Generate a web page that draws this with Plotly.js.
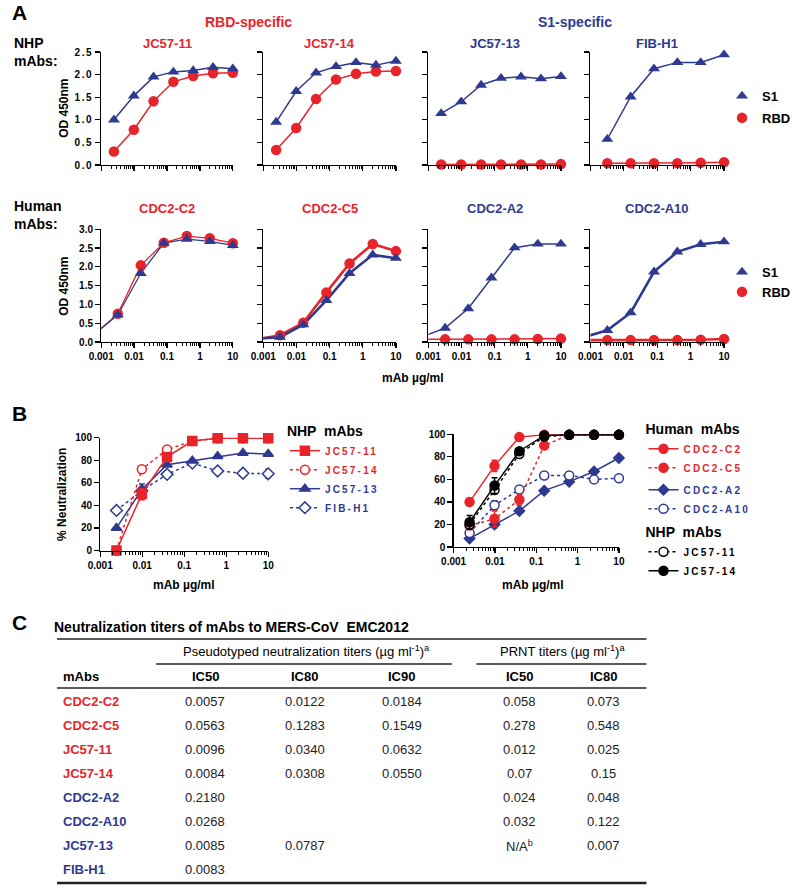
<!DOCTYPE html>
<html><head><meta charset="utf-8">
<script src="https://cdn.plot.ly/plotly-3.0.1.min.js"></script>
<style>body{margin:0;background:#fff}#chart{width:796px;height:890px}
.ytick text{letter-spacing:1.5px}</style>
</head><body><div id="chart"></div>
<script>
// ---------------- DATA ----------------
// Panel A: ELISA OD450 (mAb µg/ml)
const concA4 = [0.00244, 0.0098, 0.039, 0.156, 0.625, 2.5, 10];      // 4-fold dilutions
const concA5 = [0.00064, 0.0032, 0.016, 0.08, 0.4, 2, 10];           // 5-fold dilutions
const concFIB = [0.0032, 0.016, 0.08, 0.4, 2, 10];
const panelATitles = ['JC57-11','JC57-14','JC57-13','FIB-H1','CDC2-C2','CDC2-C5','CDC2-A2','CDC2-A10'];
const panelASpecificity = ['RBD','RBD','S1','S1','RBD','RBD','S1','S1'];
const jc5711_S1  = [1.00, 1.53, 1.95, 2.06, 2.09, 2.16, 2.13];
const jc5711_RBD = [0.30, 0.78, 1.41, 1.84, 1.97, 2.03, 2.04];
const jc5714_S1  = [0.95, 1.63, 2.04, 2.18, 2.27, 2.21, 2.30];
const jc5714_RBD = [0.33, 0.82, 1.46, 1.89, 2.02, 2.07, 2.08];
const jc5713_S1  = [1.14, 1.40, 1.77, 1.92, 1.95, 1.91, 1.96];
const jc5713_RBD = [0.01, 0.01, 0.01, 0.01, 0.01, 0.01, 0.02];
const fibh1_S1   = [0.57, 1.51, 2.13, 2.27, 2.27, 2.44];
const fibh1_RBD  = [0.04, 0.04, 0.04, 0.04, 0.05, 0.06];
const c2_S1  = [0.22, 0.72, 1.83, 2.63, 2.74, 2.68, 2.57];
const c2_RBD = [0.21, 0.75, 2.04, 2.64, 2.82, 2.76, 2.63];
const c5_S1  = [0.09, 0.13, 0.46, 1.11, 1.83, 2.32, 2.23];
const c5_RBD = [0.07, 0.18, 0.51, 1.32, 2.09, 2.61, 2.42];
const a2_S1  = [0.14, 0.37, 0.89, 1.71, 2.51, 2.61, 2.61];
const a2_RBD = [0.07, 0.07, 0.07, 0.07, 0.07, 0.08, 0.09];
const a10_S1  = [0.13, 0.31, 0.78, 1.87, 2.40, 2.60, 2.67];
const a10_RBD = [0.05, 0.05, 0.05, 0.05, 0.05, 0.06, 0.08];

// Panel B: % neutralization
const concB = [0.00244, 0.0098, 0.039, 0.156, 0.625, 2.5, 10];
const nhpJC5711 = [0, 50, 83, 97, 99.5, 99.5, 99.5];
const nhpJC5711_err = [0, 5, 3, 1, 0, 0, 0];
const nhpJC5714 = [0, 72, 89.5, 97, 99.5, 99.5, 99.5];
const nhpJC5713 = [20, 54, 76, 79.5, 83.5, 86.5, 85.5];
const nhpJC5713_err = [0, 5, 0, 0, 0, 0, 0];
const nhpFIBH1 = [35.5, 53, 67.5, 77.5, 70.5, 68.5, 68];
const nhpFIBH1_err = [0, 0, 0, 0, 0, 0, 4];
const humC2 = [40, 72, 97.5, 99.5, 99.5, 99.5, 99.5];
const humC2_err = [3, 5, 0, 0, 0, 0, 0];
const humC5 = [19, 25, 42, 90, 99.5, 99.5, 99.5];
const humC5_err = [3, 7, 5, 0, 0, 0, 0];
const humA2 = [7.5, 20, 32, 50, 58, 67, 79];
const humA2_err = [0, 3, 0, 0, 0, 0, 0];
const humA10 = [12.5, 37, 51, 63.5, 63.5, 60, 61];
const humA10_err = [3, 4, 0, 0, 0, 0, 0];
const rJC5711 = [20, 50.5, 82.5, 98, 99.5, 99.5, 99.5];
const rJC5714 = [22, 54.5, 85, 99, 99.5, 99.5, 99.5];
const rJC5714_err = [6, 7, 2, 0, 0, 0, 0];

// Tick labels
const xTickVals = [0.001, 0.01, 0.1, 1, 10];
const xTickText = ['0.001', '0.01', '0.1', '1', '10'];
const yTickValsA1 = [0, 0.5, 1, 1.5, 2, 2.5];
const yTickTextA1 = ['0.0', '0.5', '1.0', '1.5', '2.0', '2.5'];
const yTickValsA2 = [0, 0.5, 1, 1.5, 2, 2.5, 3];
const yTickTextA2 = ['0.0', '0.5', '1.0', '1.5', '2.0', '2.5', '3.0'];
const yTickValsB = [0, 20, 40, 60, 80, 100];
const yTickTextB = ['0', '20', '40', '60', '80', '100'];

// Panel C table
const tblMAbs = ['CDC2-C2','CDC2-C5','JC57-11','JC57-14','CDC2-A2','CDC2-A10','JC57-13','FIB-H1'];
const tblSpecificity = ['RBD','RBD','RBD','RBD','S1','S1','S1','S1'];
const pvIC50 = ['0.0057','0.0563','0.0096','0.0084','0.2180','0.0268','0.0085','0.0083'];
const pvIC80 = ['0.0122','0.1283','0.0340','0.0308','','','0.0787',''];
const pvIC90 = ['0.0184','0.1549','0.0632','0.0550','','','',''];
const prntIC50 = ['0.058','0.278','0.012','0.07','0.024','0.032','N/A<sup>b</sup>',''];
const prntIC80 = ['0.073','0.548','0.025','0.15','0.048','0.122','0.007',''];

// ---------------- STYLE / LAYOUT ----------------
const RED = '#e8242b', BLUE = '#2e3a8f', BLACK = '#000';
const specColor = s => s === 'RBD' ? RED : BLUE;
const FONT = 'Liberation Sans, Arial, sans-serif';
const W = 796, H = 890;
const px = v => v / W, py = v => 1 - v / H;

const minorVals = [];
[0.001, 0.01, 0.1, 1].forEach(d => { for (let k = 2; k <= 9; k++) minorVals.push(+(d * k).toPrecision(3)); });

const tickfont = {family: FONT, size: 10, weight: 'bold', color: BLACK};
function xAxisCfg(d, anchor, labels) {
  return {domain: [px(d[0]), px(d[1])], anchor, type: 'log', range: [-3, 1],
    tickmode: 'array', tickvals: xTickVals, ticktext: xTickText, showticklabels: labels,
    ticks: 'outside', ticklen: 5, tickwidth: 1.2, tickcolor: BLACK,
    minor: {tickmode: 'array', tickvals: minorVals, ticks: 'outside', ticklen: 3, tickwidth: 1, tickcolor: BLACK, showgrid: false},
    showline: true, linewidth: 1.2, linecolor: BLACK, showgrid: false, zeroline: false,
    tickfont, fixedrange: true};
}
function yAxisCfg(d, anchor, range, vals, text, labels) {
  return {domain: [py(d[1]), py(d[0])], anchor, range,
    tickmode: 'array', tickvals: vals, ticktext: text, showticklabels: labels,
    ticks: 'outside', ticklen: 5, tickwidth: 1.2, tickcolor: BLACK,
    showline: true, linewidth: 1.2, linecolor: BLACK, showgrid: false, zeroline: false,
    tickfont, fixedrange: true};
}

const colsA = [[103, 237], [268, 403], [436, 571], [601, 737]];
const rowsA = [[52, 165], [229.3, 342]];
const layout = {
  width: W, height: H, margin: {l: 0, r: 0, t: 0, b: 0},
  paper_bgcolor: '#fff', plot_bgcolor: 'rgba(0,0,0,0)',
  font: {family: FONT, color: BLACK},
  showlegend: true, annotations: [], shapes: []
};

function ann(x, y, text, size, opts) {
  layout.annotations.push(Object.assign({xref: 'paper', yref: 'paper', x: px(x), y: py(y), text, showarrow: false,
    xanchor: 'center', yanchor: 'middle', font: {size, color: BLACK}}, opts || {}));
}

const traces = [];
const seriesA = [
  [concA4, jc5711_S1, jc5711_RBD, 1.5],
  [concA4, jc5714_S1, jc5714_RBD, 1.5],
  [concA4, jc5713_S1, jc5713_RBD, 1.5],
  [concFIB, fibh1_S1, fibh1_RBD, 1.5],
  [concA5, c2_S1, c2_RBD, 1.3],
  [concA5, c5_S1, c5_RBD, 2.6],
  [concA5, a2_S1, a2_RBD, 1.5],
  [concA5, a10_S1, a10_RBD, 2.6]
];

seriesA.forEach((s, i) => {
  const r = i < 4 ? 0 : 1, c = i % 4, n = i + 1;
  const xa = 'x' + n, ya = 'y' + n;
  layout['xaxis' + n] = xAxisCfg(colsA[c], ya, r === 1);
  layout['yaxis' + n] = r === 0
    ? yAxisCfg(rowsA[0], xa, [0, 2.5], yTickValsA1, yTickTextA1, c === 0)
    : yAxisCfg(rowsA[1], xa, [0, 3], yTickValsA2, yTickTextA2, c === 0);
  const [x, s1, rbd, lw] = s;
  const keep = x.map(v => v >= 0.001);
  const f = arr => arr.filter((v, k) => keep[k]);
  const legendId = c === 0 ? (r === 0 ? 'legend' : 'legend2') : null;
  traces.push({x, y: rbd, xaxis: xa, yaxis: ya, mode: 'lines', line: {color: RED, width: lw}, showlegend: false, hoverinfo: 'skip'});
  traces.push({x, y: s1, xaxis: xa, yaxis: ya, mode: 'lines', line: {color: BLUE, width: lw}, showlegend: false, hoverinfo: 'skip'});
  traces.push({x: f(x), y: f(rbd), xaxis: xa, yaxis: ya, mode: 'markers', name: 'RBD',
    marker: {symbol: 'circle', size: 10.5, color: RED}, cliponaxis: false,
    showlegend: !!legendId, legend: legendId || 'legend', legendrank: 2, legendgroup: 'rbd' + r});
  traces.push({x: f(x), y: f(s1), xaxis: xa, yaxis: ya, mode: 'markers', name: 'S1',
    marker: {symbol: 'triangle-up', size: 10.5, color: BLUE}, cliponaxis: false,
    showlegend: !!legendId, legend: legendId || 'legend', legendrank: 1, legendgroup: 's1' + r});
  ann((colsA[c][0] + colsA[c][1]) / 2, r === 0 ? 43 : 209, '<b>' + panelATitles[i] + '</b>', 13,
    {font: {size: 13, color: specColor(panelASpecificity[i])}});
});

// Panel B axes
layout.xaxis9 = xAxisCfg([102, 273], 'y9', true);
layout.yaxis9 = yAxisCfg([437.7, 550.5], 'x9', [0, 100], yTickValsB, yTickTextB, true);
layout.xaxis10 = xAxisCfg([461.7, 630], 'y10', true);
layout.yaxis10 = yAxisCfg([434.3, 547], 'x10', [0, 100], yTickValsB, yTickTextB, true);

const lbl = (t, col) => '<span style="color:' + col + ';letter-spacing:2.2px">' + t + '</span>';
function bTrace(ax, y, err, name, col, sym, fill, dash, legend, group, rank, msize) {
  return {x: concB, y, xaxis: 'x' + ax, yaxis: 'y' + ax, mode: 'lines+markers', name: lbl(name, col),
    line: {color: col, width: 1.5, dash: dash},
    marker: {symbol: sym, size: msize || 9, color: fill ? col : '#fff', line: {color: col, width: 1.5}},
    error_y: err ? {type: 'data', array: err, visible: true, color: col, thickness: 1.5, width: 3} : undefined,
    cliponaxis: false, legend, legendgroup: group, legendrank: rank, hoverinfo: 'skip'};
}
traces.push(bTrace(9, nhpFIBH1, nhpFIBH1_err, 'FIB-H1', BLUE, 'diamond', false, 'dot', 'legend3', 'g4', 4));
traces.push(bTrace(9, nhpJC5713, nhpJC5713_err, 'JC57-13', BLUE, 'triangle-up', true, 'solid', 'legend3', 'g3', 3));
traces.push(bTrace(9, nhpJC5714, null, 'JC57-14', RED, 'circle', false, 'dot', 'legend3', 'g2', 2));
traces.push(bTrace(9, nhpJC5711, nhpJC5711_err, 'JC57-11', RED, 'square', true, 'solid', 'legend3', 'g1', 1));

traces.push(bTrace(10, humA2, humA2_err, 'CDC2-A2', BLUE, 'diamond', true, 'solid', 'legend4', 'blue', 3, 8));
traces.push(bTrace(10, humA10, humA10_err, 'CDC2-A10', BLUE, 'circle', false, 'dot', 'legend4', 'blue', 4));
traces.push(bTrace(10, humC5, humC5_err, 'CDC2-C5', RED, 'circle', true, 'dot', 'legend4', 'red', 2));
traces.push(bTrace(10, humC2, humC2_err, 'CDC2-C2', RED, 'circle', true, 'solid', 'legend4', 'red', 1));
traces.push(bTrace(10, rJC5711, null, 'JC57-11', BLACK, 'circle', false, 'dot', 'legend5', 'k', 1));
traces.push(bTrace(10, rJC5714, rJC5714_err, 'JC57-14', BLACK, 'circle', true, 'solid', 'legend5', 'k', 2));

// Legends
const legBase = {xanchor: 'left', yanchor: 'top', bgcolor: 'rgba(0,0,0,0)', borderwidth: 0, itemwidth: 30,
  itemclick: false, itemdoubleclick: false};
layout.legend = Object.assign({}, legBase, {x: px(735), y: py(81), font: {size: 13, weight: 'bold', color: BLACK}, tracegroupgap: 2, traceorder: 'grouped'});
layout.legend2 = Object.assign({}, legBase, {x: px(735), y: py(257), font: {size: 13, weight: 'bold', color: BLACK}, tracegroupgap: 0, traceorder: 'grouped'});
layout.legend3 = Object.assign({}, legBase, {x: px(290), y: py(418), font: {size: 10, weight: 'bold'}, tracegroupgap: 0, traceorder: 'grouped',
  title: {text: '<b>NHP  mAbs</b>', font: {size: 14, color: BLACK}}});
layout.legend4 = Object.assign({}, legBase, {x: px(655), y: py(416), font: {size: 10, weight: 'bold'}, tracegroupgap: 3, traceorder: 'grouped',
  title: {text: '<b>Human  mAbs</b>', font: {size: 14, color: BLACK}}});
layout.legend5 = Object.assign({}, legBase, {x: px(655), y: py(519), font: {size: 10, weight: 'bold'}, tracegroupgap: 0, traceorder: 'grouped',
  title: {text: '<b>NHP  mAbs</b>', font: {size: 14, color: BLACK}}});

// Text annotations
ann(10, 13, '<b>A</b>', 21, {xanchor: 'left'});
ann(253, 22, '<b>RBD-specific</b>', 14, {font: {size: 14, color: RED}});
ann(585, 22, '<b>S1-specific</b>', 14, {font: {size: 14, color: BLUE}});
ann(12, 52, '<b>NHP<br>mAbs:</b>', 14, {xanchor: 'left', align: 'left'});
ann(12, 215, '<b>Human<br>mAbs:</b>', 14, {xanchor: 'left', align: 'left'});
ann(65, 108, '<b>OD 450nm</b>', 12, {textangle: -90});
ann(65, 286, '<b>OD 450nm</b>', 12, {textangle: -90});
ann(420, 378, '<b>mAb µg/ml</b>', 12);
ann(10, 413, '<b>B</b>', 21, {xanchor: 'left'});
ann(63, 494, '<b>% Neutralization</b>', 12, {textangle: -90});
ann(187, 585, '<b>mAb µg/ml</b>', 12);
ann(543, 585, '<b>mAb µg/ml</b>', 12);
ann(10, 622, '<b>C</b>', 21, {xanchor: 'left'});

// Table (panel C)
ann(53, 627, '<b>Neutralization titers of mAbs to MERS-CoV  EMC2012</b>', 14, {xanchor: 'left'});
ann(312, 651, 'Pseudotyped neutralization titers (µg ml<sup>-1</sup>)<sup>a</sup>', 13);
ann(573, 651, 'PRNT titers (µg ml<sup>-1</sup>)<sup>a</sup>', 13);
ann(62, 676, '<b>mAbs</b>', 13, {xanchor: 'left'});
const colX = [209, 310, 409, 529, 614];
const hdr = ['IC50', 'IC80', 'IC90', 'IC50', 'IC80'];
hdr.forEach((h, k) => ann(colX[k], 676, '<b>' + h + '</b>', 13));
const rowY = [701, 725, 749, 773, 797.5, 821.5, 845.5, 869.5];
const cols = [pvIC50, pvIC80, pvIC90, prntIC50, prntIC80];
tblMAbs.forEach((m, i) => {
  ann(62, rowY[i], '<b>' + m + '</b>', 13, {xanchor: 'left', font: {size: 13, color: specColor(tblSpecificity[i])}});
  cols.forEach((col, k) => { if (col[i]) ann(colX[k], rowY[i], col[i], 13, {font: {size: 13, color: '#222'}}); });
});
function hline(x0, x1, y, w) {
  layout.shapes.push({type: 'line', xref: 'paper', yref: 'paper', x0: px(x0), x1: px(x1), y0: py(y), y1: py(y), line: {color: '#222', width: w}});
}
hline(58, 658, 639, 1.5);
hline(159, 460, 664, 1.5);
hline(485, 658, 664, 1.5);
hline(58, 658, 688, 1.5);
hline(58, 658, 883, 2.5);

Plotly.newPlot('chart', traces, layout, {staticPlot: true, displayModeBar: false});
</script></body></html>
